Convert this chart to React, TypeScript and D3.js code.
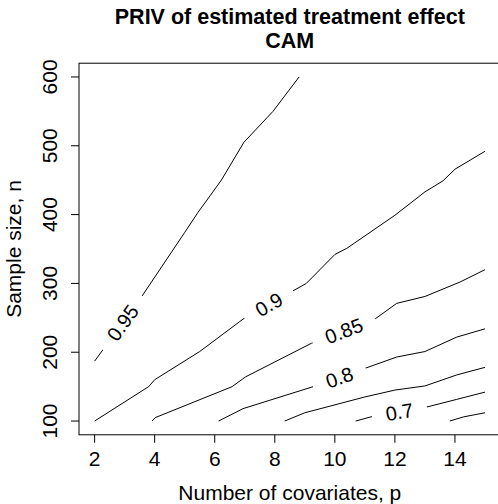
import * as d3 from 'd3';

// contour levels and their polylines (p, n)
const levels = [0.95, 0.9, 0.85, 0.8, 0.75, 0.7, 0.65];

const p095 = [2, 3.57, 5.0, 5.44, 6.22, 6.97, 7.94, 8.81];
const n095 = [187, 281, 374, 403, 450, 505, 550, 600];

const p090 = [2, 3.8, 4.0, 5.5, 7.0, 9.05, 10.0, 10.4, 12.0, 13.0, 13.6, 14.0, 15];
const n090 = [100, 150, 160, 201, 250, 300, 342, 351, 399, 433, 449, 466, 492];

const p085 = [3.91, 4.02, 6.58, 7.02, 9.22, 11.36, 12.06, 13.0, 14.17, 15];
const n085 = [100, 105, 150, 164, 213, 249, 271, 281, 302, 320];

const p080 = [6.13, 6.94, 9.28, 11.03, 12.06, 13.0, 14.06, 15];
const n080 = [100, 118, 150, 177, 193, 201, 222, 234];

const p075 = [8.33, 9.0, 11.0, 12.0, 13.0, 14.06, 15];
const n075 = [100, 112, 135, 145, 151, 167, 178];

const p070 = [10.69, 11.28, 13.03, 14.06, 15];
const n070 = [100, 107, 120, 131.5, 142];

const p065 = [13.83, 14.28, 15];
const n065 = [100, 106, 112];

// where each label sits along its line (p), null = unlabelled
const labelAt = [2.93, 7.8, 10.3, 10.15, null, 12.15, null];

const xTicks = [2, 4, 6, 8, 10, 12, 14];
const yTicks = [100, 200, 300, 400, 500, 600];

const W = 498;
const H = 504;
const font = '"Liberation Sans", Arial, Helvetica, sans-serif';

export default function App() {
  const lines = [
    [p095, n095],
    [p090, n090],
    [p085, n085],
    [p080, n080],
    [p075, n075],
    [p070, n070],
    [p065, n065],
  ];

  const x = d3.scaleLinear().domain([1.48, 15.52]).range([79, 500.6]);
  const y = d3.scaleLinear().domain([80, 620]).range([434.8, 63.2]);
  const [x0, x1] = x.range();
  const [y0, y1] = y.range();

  const line = d3
    .line<[number, number]>()
    .x((d) => x(d[0]))
    .y((d) => y(d[1]));

  const labelPos = (ps: number[], ns: number[], p: number) => {
    let i = 0;
    while (i < ps.length - 2 && ps[i + 1] < p) i++;
    const t = (p - ps[i]) / (ps[i + 1] - ps[i]);
    const ax = x(ps[i]);
    const ay = y(ns[i]);
    const bx = x(ps[i + 1]);
    const by = y(ns[i + 1]);
    const angle = (Math.atan2(by - ay, bx - ax) * 180) / Math.PI;
    return { cx: ax + t * (bx - ax), cy: ay + t * (by - ay), angle };
  };

  const fs = 21; // axis text
  const lfs = 20; // contour labels

  return (
    <div style={{ position: 'absolute', left: 0, top: 0 }}>
      <svg width={W} height={H} style={{ display: 'block', background: '#fff' }}>
        <rect x={0} y={0} width={W} height={H} fill="#fff" />

        {lines.map(([ps, ns], i) => (
          <path
            key={levels[i]}
            d={line(ps.map((p, j) => [p, ns[j]] as [number, number])) ?? ''}
            fill="none"
            stroke="#000"
            strokeWidth={1}
          />
        ))}

        {lines.map(([ps, ns], i) => {
          const p = labelAt[i];
          if (p == null) return null;
          const { cx, cy, angle } = labelPos(ps, ns, p);
          const txt = String(levels[i]);
          const len = txt.length * 0.556 * lfs - (txt.includes('.') ? 0.278 * lfs : 0) + 28;
          return (
            <g key={'l' + levels[i]} transform={`translate(${cx},${cy}) rotate(${angle})`}>
              <rect x={-len / 2} y={-10} width={len} height={20} fill="#fff" />
              <text
                textAnchor="middle"
                dy="0.36em"
                fontFamily={font}
                fontSize={lfs}
                fill="#000"
              >
                {txt}
              </text>
            </g>
          );
        })}

        <rect x={x0} y={y1} width={x1 - x0} height={y0 - y1} fill="none" stroke="#000" strokeWidth={1} />

        {xTicks.map((t) => (
          <g key={'x' + t}>
            <line x1={x(t)} x2={x(t)} y1={y0} y2={y0 + 8} stroke="#000" />
            <text x={x(t)} y={466} textAnchor="middle" fontFamily={font} fontSize={fs}>
              {t}
            </text>
          </g>
        ))}

        {yTicks.map((t) => (
          <g key={'y' + t}>
            <line x1={x0} x2={x0 - 8} y1={y(t)} y2={y(t)} stroke="#000" />
            <text
              transform={`translate(57,${y(t)}) rotate(-90)`}
              textAnchor="middle"
              fontFamily={font}
              fontSize={fs}
            >
              {t}
            </text>
          </g>
        ))}

        <text x={(x0 + x1) / 2} y={500} textAnchor="middle" fontFamily={font} fontSize={fs}>
          Number of covariates, p
        </text>
        <text
          transform={`translate(21,${(y0 + y1) / 2}) rotate(-90)`}
          textAnchor="middle"
          fontFamily={font}
          fontSize={fs}
        >
          Sample size, n
        </text>

        <text x={(x0 + x1) / 2} y={24} textAnchor="middle" fontFamily={font} fontSize={21.5} fontWeight="bold">
          PRIV of estimated treatment effect
        </text>
        <text x={(x0 + x1) / 2} y={47.5} textAnchor="middle" fontFamily={font} fontSize={21.5} fontWeight="bold">
          CAM
        </text>
      </svg>
    </div>
  );
}
